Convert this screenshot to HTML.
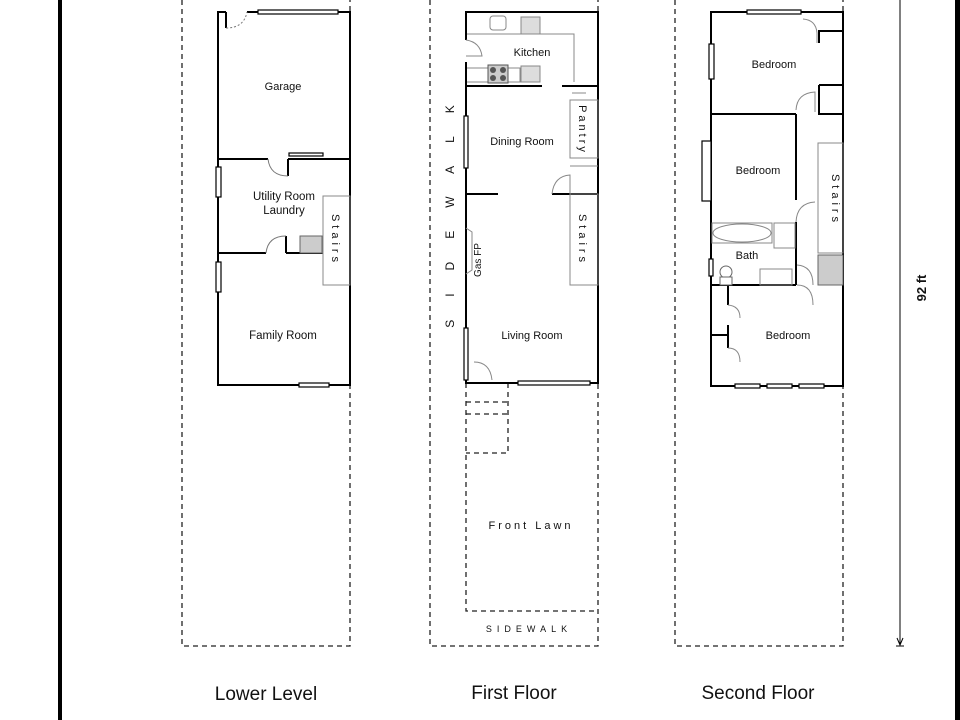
<!DOCTYPE html>
<html><head><meta charset="utf-8"><style>
html,body{margin:0;padding:0;background:#fff;width:960px;height:720px;overflow:hidden}
svg{display:block}
text{font-family:"Liberation Sans","DejaVu Sans",sans-serif;fill:#111}
</style></head><body>
<svg width="960" height="720" viewBox="0 0 960 720" xmlns="http://www.w3.org/2000/svg">
<rect x="0" y="0" width="960" height="720" fill="#fff"/>
<!-- frame lines -->
<rect x="58" y="0" width="4" height="720" fill="#000"/>
<rect x="955" y="0" width="5" height="720" fill="#000"/>

<g fill="none" stroke="#222" stroke-width="1.3" stroke-dasharray="5,4">
  <!-- lower level lot -->
  <polyline points="182,0 182,646 350,646 350,0"/>
  <!-- first floor lot -->
  <polyline points="430,0 430,646 598,646 598,0"/>
  <polyline points="466,383 466,611 598,611"/>
  <polyline points="466,402 508,402"/>
  <polyline points="466,414 508,414"/>
  <polyline points="508,383 508,453 466,453"/>
  <!-- second floor lot -->
  <polyline points="675,0 675,646 843,646 843,0"/>
</g>

<!-- ========== LOWER LEVEL ========== -->
<g fill="none" stroke="#000" stroke-width="2">
  <polyline points="226,12 218,12 218,385 350,385 350,12 330,12"/>
  <line x1="226" y1="12" x2="226" y2="28"/>
  <line x1="247" y1="12" x2="260" y2="12"/>
  <line x1="218" y1="159" x2="268" y2="159"/>
  <line x1="288" y1="159" x2="350" y2="159"/>
  <line x1="288" y1="159" x2="288" y2="176"/>
  <line x1="218" y1="253" x2="266" y2="253"/>
  <line x1="286" y1="253" x2="323" y2="253"/>
  <line x1="286" y1="236" x2="286" y2="253"/>
</g>
<g fill="#fff" stroke="#000" stroke-width="1.2">
  <rect x="258" y="10" width="80" height="4"/>
  <rect x="289" y="153" width="34" height="3"/>
  <rect x="216" y="167" width="5" height="30"/>
  <rect x="216" y="262" width="5" height="30"/>
  <rect x="299" y="383" width="30" height="4"/>
</g>
<g fill="none" stroke="#777" stroke-width="1" stroke-dasharray="2,2">
  <path d="M226,28 Q244,28 247,12"/>
</g>
<g fill="none" stroke="#777" stroke-width="1">
  <path d="M268,159 Q270,176 288,176"/>
  <path d="M266,253 Q268,236 286,236"/>
  <rect x="323" y="196" width="27" height="89" stroke="#888"/>
</g>
<rect x="300" y="236" width="22" height="17" fill="#ccc" stroke="#666"/>
<text x="283" y="90" font-size="11" text-anchor="middle">Garage</text>
<text x="284" y="200" font-size="11.5" text-anchor="middle">Utility Room</text>
<text x="284" y="214" font-size="11.5" text-anchor="middle">Laundry</text>
<text x="283" y="339" font-size="11.5" text-anchor="middle">Family Room</text>
<text x="332" y="240" font-size="11" text-anchor="middle" letter-spacing="4" transform="rotate(90 332 240)">Stairs</text>

<!-- ========== FIRST FLOOR ========== -->
<g fill="none" stroke="#000" stroke-width="2">
  <polyline points="466,40 466,12 598,12 598,383 466,383 466,62"/>
  <line x1="466" y1="86" x2="542" y2="86"/>
  <line x1="562" y1="86" x2="598" y2="86"/>
  <line x1="466" y1="194" x2="498" y2="194"/>
  <line x1="552" y1="194" x2="598" y2="194"/>
</g>
<g fill="#fff" stroke="#000" stroke-width="1.2">
  <rect x="464" y="116" width="4" height="52"/>
  <rect x="464" y="328" width="4" height="52"/>
  <rect x="518" y="381" width="72" height="4"/>
</g>
<g fill="none" stroke="#888" stroke-width="1">
  <polyline points="467,34 574,34 574,82"/>
  <polyline points="467,68 520,68 520,82 467,82"/>
  <rect x="521" y="17" width="19" height="17" fill="#ddd"/>
  <rect x="521" y="66" width="19" height="16" fill="#ddd"/>
  <rect x="490" y="16" width="16" height="14" rx="3"/>
  <path d="M466,40 Q480,42 482,56 L466,56"/>
  <rect x="570" y="100" width="28" height="58"/>
  <line x1="570" y1="166" x2="598" y2="166"/>
  <path d="M572,93 L586,93"/>
  <path d="M552,194 Q554,176 570,175 L570,194"/>
  <rect x="570" y="194" width="28" height="91"/>
  <path d="M466,228 L472,232 L472,270 L466,274"/>
  <path d="M474,362 Q490,362 492,380"/>
</g>
<rect x="488" y="65" width="20" height="18" fill="#ccc" stroke="#555"/>
<g fill="#555"><circle cx="493" cy="70" r="3"/><circle cx="503" cy="70" r="3"/><circle cx="493" cy="78" r="3"/><circle cx="503" cy="78" r="3"/></g>
<text x="532" y="56" font-size="11" text-anchor="middle">Kitchen</text>
<text x="522" y="145" font-size="11" text-anchor="middle">Dining Room</text>
<text x="532" y="339" font-size="11" text-anchor="middle">Living Room</text>
<text x="481" y="260" font-size="10" text-anchor="middle" transform="rotate(-90 481 260)">Gas FP</text>
<text x="579" y="130" font-size="11" text-anchor="middle" letter-spacing="3" transform="rotate(90 579 130)">Pantry</text>
<text x="579" y="240" font-size="11" text-anchor="middle" letter-spacing="4" transform="rotate(90 579 240)">Stairs</text>
<text x="454" y="205" font-size="12" text-anchor="middle" letter-spacing="23" transform="rotate(-90 454 205)">SIDEWALK</text>
<text x="531" y="529" font-size="11" text-anchor="middle" letter-spacing="3">Front Lawn</text>
<text x="529" y="632" font-size="9" text-anchor="middle" letter-spacing="5">SIDEWALK</text>

<!-- ========== SECOND FLOOR ========== -->
<g fill="none" stroke="#000" stroke-width="2">
  <rect x="711" y="12" width="132" height="374"/>
  <line x1="711" y1="114" x2="796" y2="114"/>
  <line x1="819" y1="114" x2="843" y2="114"/>
  <line x1="796" y1="114" x2="796" y2="200"/>
  <line x1="796" y1="222" x2="796" y2="285"/>
  <line x1="711" y1="285" x2="796" y2="285"/>
  <polyline points="819,43 819,31 843,31"/>
  <polyline points="819,85 843,85 843,114 819,114 819,85"/>
  <line x1="728" y1="286" x2="728" y2="305"/>
  <line x1="728" y1="325" x2="728" y2="348"/>
  <line x1="711" y1="335" x2="728" y2="335"/>
</g>
<g fill="#fff" stroke="#000" stroke-width="1.2">
  <rect x="747" y="10" width="54" height="4"/>
  <rect x="709" y="44" width="5" height="35"/>
  <rect x="702" y="141" width="9" height="60"/>
  <rect x="709" y="259" width="4" height="17"/>
  <rect x="735" y="384" width="25" height="4"/>
  <rect x="767" y="384" width="25" height="4"/>
  <rect x="799" y="384" width="25" height="4"/>
</g>
<g fill="none" stroke="#888" stroke-width="1">
  <path d="M803,19 Q816,20 817,33 L817,43"/>
  <path d="M796,110 Q797,93 815,92 L815,112"/>
  <path d="M796,222 Q797,203 815,202"/>
  <path d="M797,265 Q813,266 813,285"/>
  <path d="M797,285 Q813,285 813,305 L813,305"/>
  <rect x="818" y="143" width="25" height="110"/>
  <rect x="712" y="223" width="60" height="20" rx="0"/>
  <ellipse cx="742" cy="233" rx="29" ry="9"/>
  <rect x="774" y="223" width="21" height="25"/>
  <rect x="760" y="269" width="32" height="16"/>
  <path d="M728,305 Q740,306 740,318"/>
  <path d="M728,348 Q740,348 740,362"/>
</g>
<rect x="818" y="255" width="25" height="30" fill="#ccc" stroke="#666"/>
<circle cx="726" cy="272" r="6" fill="#fff" stroke="#666"/>
<rect x="720" y="277" width="12" height="8" fill="#fff" stroke="#666"/>
<text x="774" y="68" font-size="11" text-anchor="middle">Bedroom</text>
<text x="758" y="174" font-size="11" text-anchor="middle">Bedroom</text>
<text x="747" y="259" font-size="11" text-anchor="middle">Bath</text>
<text x="788" y="339" font-size="11" text-anchor="middle">Bedroom</text>
<text x="832" y="200" font-size="11" text-anchor="middle" letter-spacing="4" transform="rotate(90 832 200)">Stairs</text>

<!-- 92 ft dimension -->
<line x1="900" y1="0" x2="900" y2="645" stroke="#000" stroke-width="1"/>
<path d="M897,638 L900,645 L903,638" fill="none" stroke="#000"/>
<line x1="896" y1="646" x2="904" y2="646" stroke="#000"/>
<text x="926" y="288" font-size="13" font-weight="bold" text-anchor="middle" transform="rotate(-90 926 288)">92 ft</text>

<!-- titles -->
<text x="266" y="700" font-size="19" text-anchor="middle">Lower Level</text>
<text x="514" y="699" font-size="19" text-anchor="middle">First Floor</text>
<text x="758" y="699" font-size="19" text-anchor="middle">Second Floor</text>
</svg>
</body></html>
